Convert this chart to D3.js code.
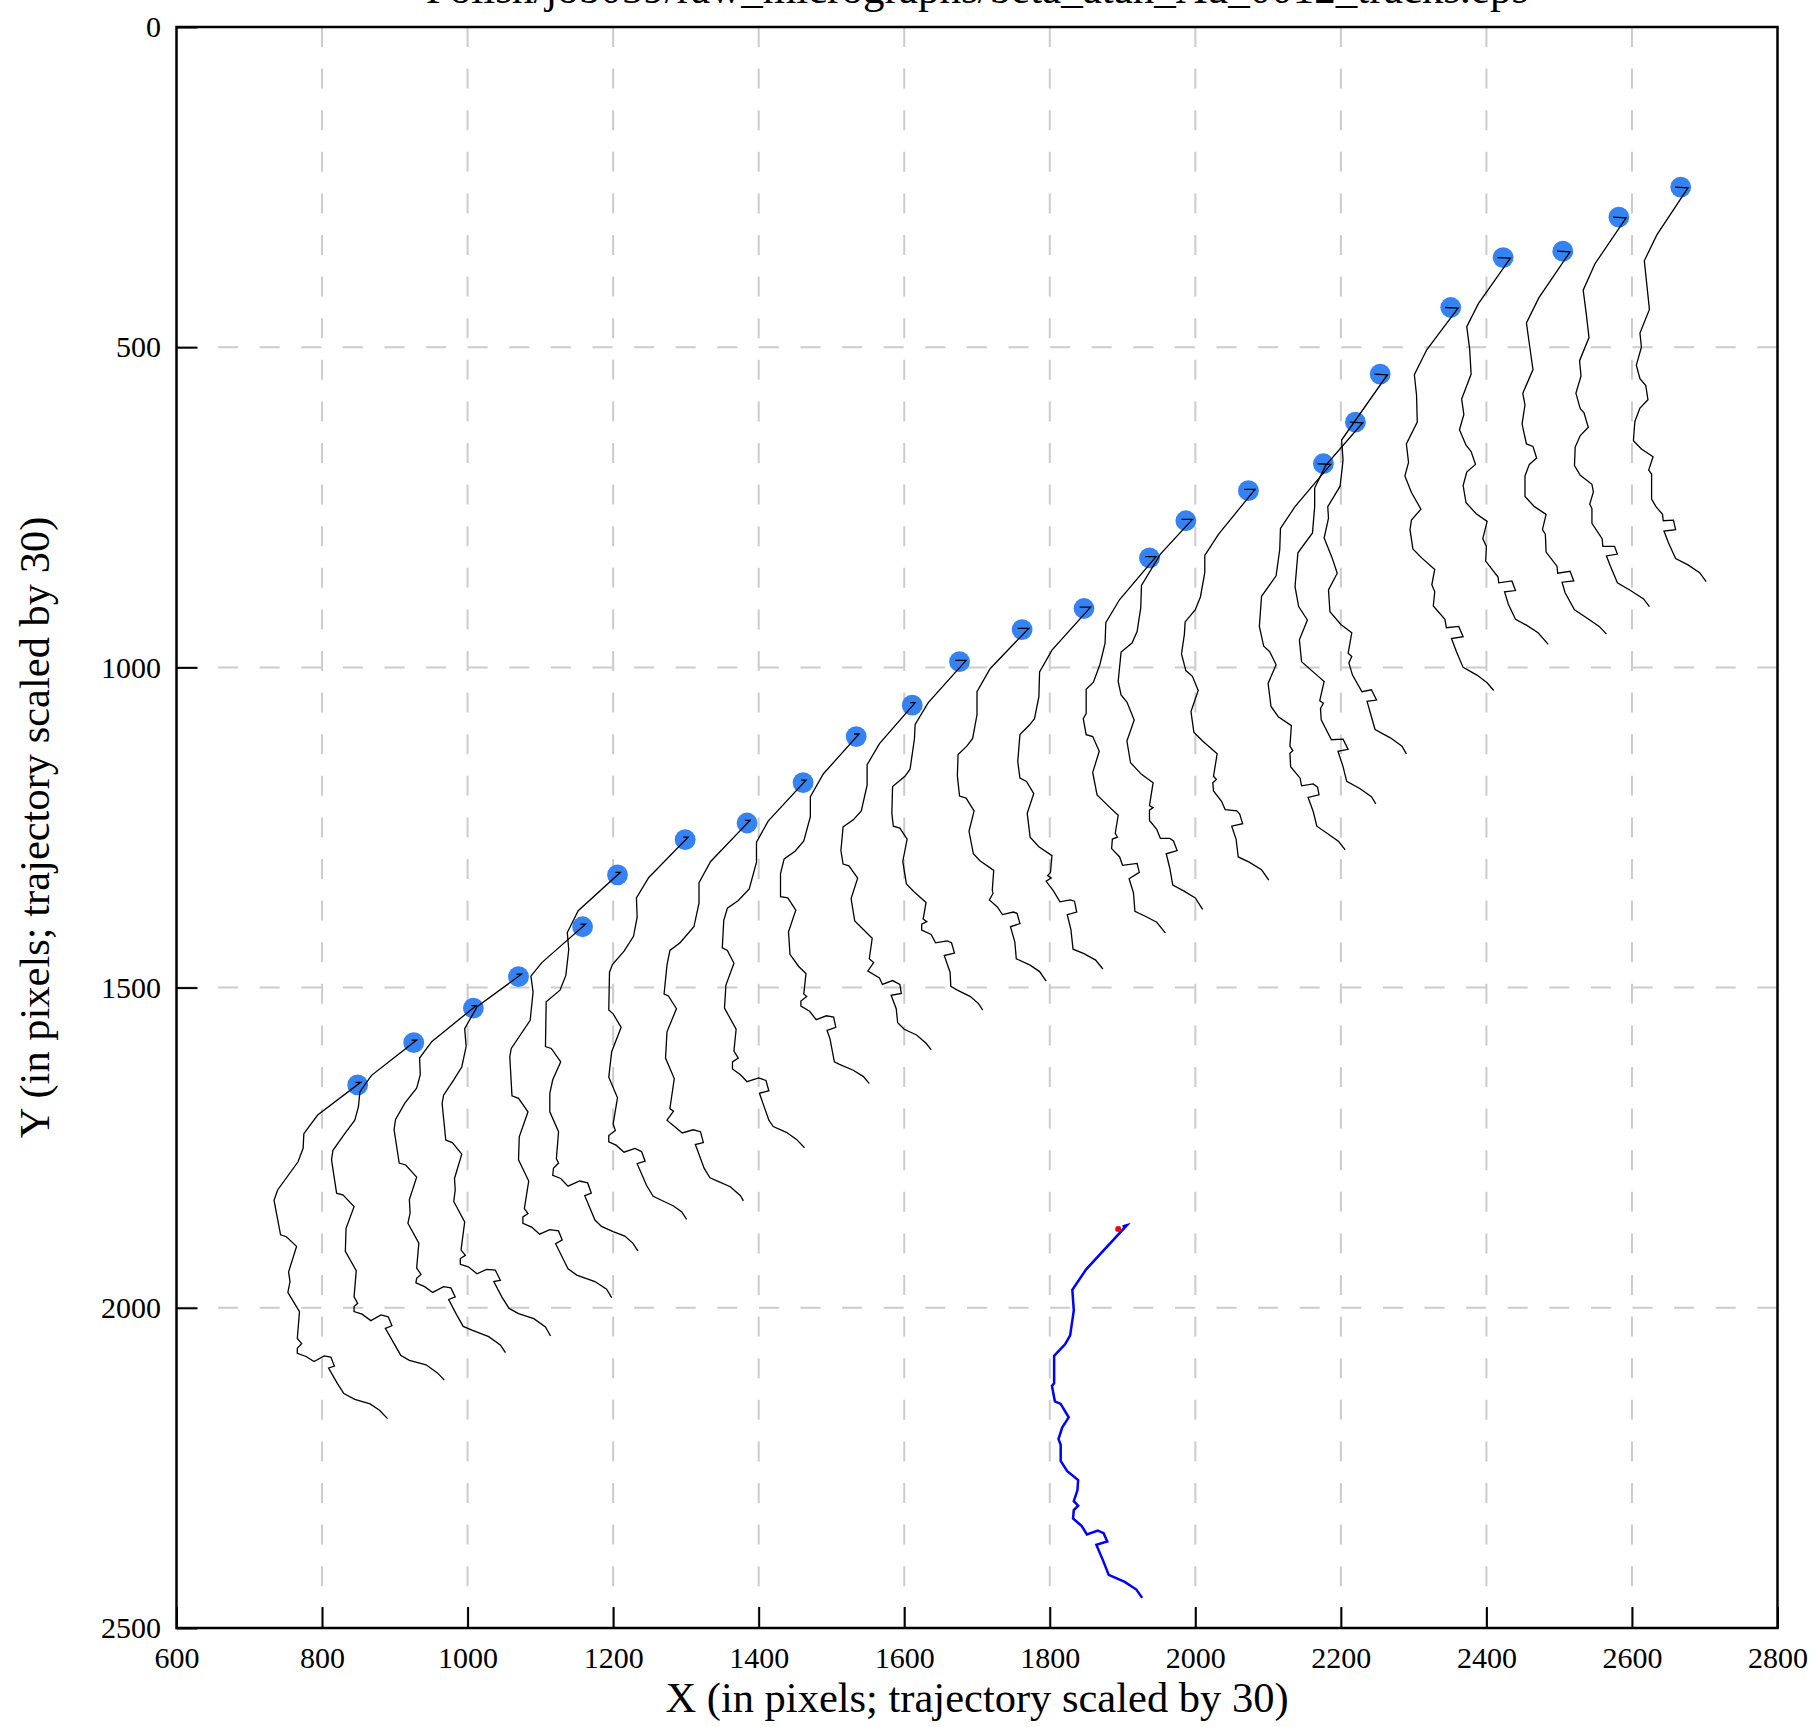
<!DOCTYPE html>
<html><head><meta charset="utf-8">
<script src="https://cdn.jsdelivr.net/npm/d3@7"></script>
<style>body{margin:0;background:#fff}</style>
</head><body>
<svg id="chart" width="1815" height="1727"></svg>
<script>
const titleText = "Polish/job059/raw_micrographs/beta_atan_Au_0012_tracks.eps";
const xLabel = "X (in pixels; trajectory scaled by 30)";
const yLabel = "Y (in pixels; trajectory scaled by 30)";
const xTicks = [600, 800, 1000, 1200, 1400, 1600, 1800, 2000, 2200, 2400, 2600, 2800];
const yTicks = [0, 500, 1000, 1500, 2000, 2500];

// particle positions (start of each track)
const particleX = [849, 926, 1008, 1070, 1158, 1206, 1299, 1384, 1461, 1534, 1611, 1676, 1762, 1847, 1937, 1987, 2073, 2176, 2220, 2254, 2351, 2423, 2505, 2582, 2667];
const particleY = [1652, 1586, 1532, 1483, 1405, 1324, 1269, 1243, 1180, 1108, 1059, 991, 941, 908, 829, 771, 724, 682, 617, 542, 438, 360, 350, 297, 250];

// per-particle tracks: displacement (x30) per frame, relative to particle position
const tracks = [
[[-3,-4],[4,-4],[-55,47],[-74,76],[-75,99],[-82,120],[-110,164],[-115,180],[-106,234],[-98,237],[-84,252],[-95,292],[-93,307],[-96,324],[-80,354],[-83,396],[-77,404],[-83,411],[-83,419],[-71,424],[-60,432],[-46,423],[-37,425],[-32,439],[-40,442],[-28,466],[-19,482],[-4,491],[17,498],[30,508],[41,521]],
[[-3,-4],[4,-4],[-58,51],[-74,77],[-76,100],[-81,121],[-96,144],[-111,168],[-113,183],[-106,235],[-97,238],[-82,256],[-93,290],[-94,326],[-79,356],[-82,397],[-77,407],[-82,412],[-82,420],[-71,424],[-59,434],[-45,425],[-35,428],[-30,442],[-39,446],[-27,470],[-18,488],[-6,496],[17,503],[33,516],[42,527]],
[[-3,-4],[4,-4],[-57,52],[-74,78],[-73,104],[-78,125],[-94,148],[-107,174],[-109,190],[-102,242],[-93,245],[-78,264],[-88,299],[-87,320],[-90,336],[-75,367],[-78,406],[-72,416],[-78,422],[-79,429],[-67,435],[-56,444],[-41,435],[-31,437],[-25,451],[-34,455],[-23,479],[-14,497],[-2,503],[21,513],[37,526],[44,538]],
[[-3,-4],[4,-4],[-57,47],[-74,81],[-72,109],[-78,141],[-89,161],[-103,185],[-105,198],[-100,255],[-91,259],[-78,277],[-88,315],[-87,333],[-89,351],[-74,383],[-79,427],[-73,435],[-80,440],[-80,449],[-69,453],[-57,464],[-44,457],[-32,458],[-25,474],[-34,476],[-23,500],[-13,518],[0,526],[21,534],[37,547],[44,561]],
[[-3,-4],[4,-4],[-56,56],[-71,77],[-68,102],[-72,146],[-98,190],[-100,203],[-97,264],[-88,268],[-75,289],[-87,328],[-88,364],[-74,397],[-80,440],[-75,448],[-82,453],[-82,463],[-70,469],[-59,480],[-45,473],[-33,475],[-28,489],[-37,495],[-27,518],[-20,534],[-8,544],[17,554],[33,566],[40,579]],
[[-3,-4],[4,-4],[-54,56],[-69,90],[-67,117],[-71,157],[-79,180],[-98,198],[-99,268],[-91,271],[-78,292],[-89,320],[-93,341],[-93,370],[-81,401],[-84,443],[-81,450],[-88,458],[-89,469],[-78,474],[-68,486],[-52,478],[-41,481],[-36,497],[-45,501],[-31,539],[-22,549],[-6,557],[10,564],[21,575],[28,587]],
[[-3,-4],[4,-4],[-50,59],[-67,91],[-66,121],[-71,151],[-84,174],[-100,195],[-104,207],[-105,266],[-99,272],[-88,293],[-101,331],[-105,371],[-93,403],[-99,444],[-96,454],[-105,462],[-105,472],[-95,477],[-84,488],[-69,482],[-60,487],[-55,502],[-66,506],[-53,540],[-44,557],[-29,565],[-16,572],[-5,581],[2,593]],
[[-3,-4],[4,-4],[-50,60],[-66,93],[-66,125],[-73,162],[-92,187],[-106,199],[-110,222],[-114,267],[-108,270],[-97,290],[-110,326],[-112,367],[-100,399],[-106,446],[-101,450],[-110,464],[-105,469],[-89,484],[-74,479],[-64,482],[-60,499],[-71,502],[-59,539],[-51,554],[-39,560],[-23,568],[-9,582],[-5,590]],
[[-3,-4],[4,-4],[-48,60],[-64,93],[-64,124],[-74,166],[-89,184],[-104,196],[-109,215],[-111,258],[-104,262],[-95,282],[-106,316],[-108,352],[-92,385],[-95,419],[-89,430],[-97,436],[-97,447],[-86,456],[-77,467],[-61,461],[-51,465],[-47,481],[-60,485],[-47,527],[-41,537],[-23,546],[-9,557],[2,570]],
[[-3,-4],[4,-4],[-45,58],[-63,94],[-63,125],[-72,163],[-84,179],[-99,191],[-104,214],[-104,250],[-94,252],[-83,271],[-93,305],[-91,340],[-79,359],[-69,370],[-72,402],[-68,406],[-76,413],[-76,421],[-64,429],[-55,442],[-41,436],[-31,438],[-28,454],[-40,459],[-36,472],[-30,508],[-23,512],[-4,521],[10,531],[18,542]],
[[-3,-4],[4,-4],[-45,60],[-62,93],[-62,125],[-70,165],[-81,179],[-95,190],[-98,227],[-95,248],[-87,251],[-75,270],[-84,302],[-79,337],[-55,364],[-59,396],[-53,402],[-61,415],[-45,426],[-41,436],[-27,430],[-17,436],[-15,450],[-29,453],[-22,474],[-20,496],[-11,506],[6,515],[19,528],[26,538]],
[[-6,-2],[9,-2],[-43,64],[-61,98],[-62,121],[-68,168],[-75,179],[-92,195],[-93,237],[-91,257],[-82,260],[-72,277],[-78,312],[-73,347],[-63,359],[-46,376],[-50,402],[-45,406],[-52,410],[-52,419],[-39,426],[-33,439],[-17,436],[-11,439],[-7,455],[-21,459],[-13,485],[-12,507],[-3,513],[15,523],[26,534],[32,544]],
[[-6,-2],[9,-2],[-44,61],[-62,97],[-62,133],[-68,170],[-76,182],[-88,195],[-89,228],[-86,260],[-77,263],[-66,283],[-73,315],[-67,350],[-58,361],[-39,376],[-41,407],[-40,412],[-45,422],[-34,433],[-27,445],[-12,441],[-7,443],[-3,459],[-16,464],[-10,488],[-8,514],[11,524],[24,534],[33,549]],
[[-6,-2],[9,-2],[-44,65],[-61,99],[-62,138],[-68,172],[-75,182],[-88,197],[-91,239],[-88,265],[-79,270],[-69,289],[-78,320],[-74,357],[-62,372],[-44,386],[-46,412],[-50,417],[-45,421],[-52,426],[-42,441],[-33,458],[-19,455],[-13,457],[-10,474],[-23,478],[-18,501],[-15,532],[0,539],[16,549],[26,563]],
[[-6,-2],[9,-2],[-41,65],[-60,101],[-61,133],[-68,166],[-77,194],[-87,205],[-87,243],[-91,251],[-87,276],[-78,279],[-69,302],[-78,335],[-72,370],[-56,388],[-43,402],[-47,430],[-44,436],[-51,439],[-52,454],[-41,467],[-37,480],[-17,477],[-14,491],[-28,501],[-22,523],[-20,552],[-5,560],[10,569],[22,586]],
[[-6,-2],[9,-2],[-35,52],[-61,101],[-62,136],[-67,173],[-74,191],[-89,205],[-93,251],[-89,272],[-81,283],[-71,311],[-81,344],[-76,378],[-61,396],[-45,409],[-50,445],[-45,448],[-50,452],[-50,468],[-40,482],[-35,496],[-22,496],[-17,500],[-12,515],[-27,520],[-22,543],[-18,569],[-3,578],[13,589],[23,607]],
[[-6,-2],[9,-2],[-41,68],[-60,101],[-60,128],[-66,166],[-73,186],[-87,205],[-88,224],[-92,255],[-86,281],[-77,290],[-69,312],[-79,345],[-75,377],[-63,391],[-43,411],[-48,446],[-44,451],[-49,456],[-48,469],[-37,485],[-32,498],[-16,500],[-12,505],[-8,520],[-23,524],[-17,544],[-14,572],[1,580],[18,592],[28,608]],
[[-8,0],[10,1],[-39,67],[-59,101],[-60,134],[-65,175],[-85,207],[-88,254],[-82,285],[-74,293],[-65,314],[-76,343],[-72,379],[-62,395],[-44,409],[-46,441],[-42,448],[-46,452],[-45,473],[-32,491],[-30,503],[-14,500],[-8,505],[-6,517],[-21,521],[-14,543],[-9,566],[5,577],[21,590],[30,603]],
[[-8,0],[10,1],[-41,68],[-56,103],[-56,132],[-59,173],[-79,204],[-83,257],[-78,288],[-66,309],[-77,340],[-74,374],[-51,397],[-43,405],[-49,435],[-44,439],[-48,447],[-47,465],[-33,496],[-17,495],[-10,511],[-24,514],[-17,538],[-12,561],[6,572],[22,585],[28,596]],
[[-8,0],[10,1],[-53,103],[-51,134],[-55,175],[-72,207],[-71,225],[-77,256],[-66,287],[-59,311],[-71,337],[-69,371],[-54,391],[-39,404],[-44,436],[-39,441],[-43,451],[-38,470],[-25,496],[-12,493],[-5,509],[-18,511],[-12,535],[-7,555],[14,568],[30,581],[36,593]],
[[-8,0],[10,1],[-33,66],[-50,105],[-47,137],[-46,179],[-61,213],[-58,242],[-63,263],[-54,289],[-41,315],[-54,332],[-56,347],[-52,377],[-40,391],[-22,409],[-26,433],[-22,444],[-24,466],[-8,487],[-6,500],[11,498],[17,514],[1,517],[8,538],[17,562],[36,574],[50,586],[59,598]],
[[-8,0],[10,1],[-34,72],[-50,108],[-46,143],[-44,182],[-57,221],[-54,245],[-60,269],[-51,293],[-44,303],[-38,323],[-50,335],[-55,356],[-51,383],[-37,400],[-22,412],[-28,439],[-23,451],[-24,474],[-7,499],[-6,508],[12,505],[17,520],[2,522],[7,541],[17,565],[32,574],[48,586],[62,604]],
[[-8,0],[10,1],[-33,73],[-50,112],[-46,145],[-41,185],[-55,222],[-52,240],[-56,270],[-50,301],[-41,305],[-36,323],[-46,333],[-52,351],[-52,383],[-39,399],[-23,411],[-28,435],[-24,442],[-23,470],[-8,492],[-7,503],[10,500],[15,515],[-1,517],[3,533],[16,560],[32,572],[50,586],[60,598]],
[[-8,0],[10,1],[-33,73],[-49,114],[-45,149],[-41,188],[-54,224],[-52,248],[-59,275],[-53,299],[-48,305],[-42,328],[-53,341],[-60,359],[-61,388],[-53,403],[-37,417],[-35,429],[-40,448],[-37,455],[-37,478],[-23,502],[-22,514],[-6,514],[-2,526],[-17,529],[-12,544],[-2,571],[16,583],[34,596],[42,608]],
[[-8,0],[10,1],[-33,75],[-50,115],[-43,191],[-56,228],[-54,250],[-61,278],[-56,299],[-48,310],[-45,332],[-56,345],[-63,366],[-65,396],[-54,409],[-38,421],[-44,442],[-40,448],[-40,487],[-34,499],[-25,511],[-24,521],[-10,520],[-7,535],[-23,537],[-17,555],[-7,580],[10,590],[26,602],[35,616]]
];

// global (blue) track and its origin (red point)
const globalOrigin = [1894, 1877];
const globalTrack = [[6,-4],[12,-6],[-44,63],[-63,95],[-61,127],[-66,166],[-73,180],[-88,198],[-88,241],[-91,245],[-87,269],[-79,273],[-68,294],[-77,310],[-82,328],[-79,337],[-79,362],[-70,378],[-55,392],[-56,408],[-61,425],[-55,432],[-61,439],[-62,452],[-50,464],[-43,477],[-28,471],[-20,475],[-15,488],[-30,493],[-21,517],[-13,540],[9,551],[25,563],[33,576]];

const W = 1815, H = 1727;
const L = 176.5, T = 27, PW = 1601, PH = 1601;
const svg = d3.select("#chart");
svg.append("rect").attr("width", W).attr("height", H).attr("fill", "#fff");

const x = d3.scaleLinear().domain([600, 2800]).range([L, L + PW]);
const y = d3.scaleLinear().domain([0, 2500]).range([T, T + PH]);

const font = "'Liberation Serif', 'Times New Roman', serif";

// grid
const grid = svg.append("g").attr("stroke", "#cccccc").attr("stroke-width", 2).attr("stroke-dasharray", "20,21.6");
grid.selectAll("line.v").data(xTicks.slice(1, -1)).join("line").attr("class", "v")
  .attr("x1", d => x(d)).attr("x2", d => x(d)).attr("y1", y(0)).attr("y2", y(2500));
grid.selectAll("line.h").data(yTicks.slice(1, -1)).join("line").attr("class", "h")
  .attr("y1", d => y(d)).attr("y2", d => y(d)).attr("x1", x(600)).attr("x2", x(2800));

// axes
const xAxis = svg.append("g").attr("transform", `translate(0,${y(2500)})`)
  .call(d3.axisBottom(x).tickValues(xTicks).tickFormat(d3.format("d")).tickSize(-21).tickSizeOuter(0).tickPadding(19));
const yAxis = svg.append("g").attr("transform", `translate(${x(600)},0)`)
  .call(d3.axisLeft(y).tickValues(yTicks).tickFormat(d3.format("d")).tickSize(-21).tickSizeOuter(0).tickPadding(15.5));
[xAxis, yAxis].forEach(a => {
  a.select(".domain").remove();
  a.selectAll(".tick line").attr("stroke", "#000").attr("stroke-width", 2);
  a.selectAll(".tick text").attr("font-family", font).attr("font-size", 30).attr("fill", "#000");
});

// frame
svg.append("rect").attr("x", x(600)).attr("y", y(0)).attr("width", PW).attr("height", PH)
  .attr("fill", "none").attr("stroke", "#000").attr("stroke-width", 2.5);

// particles
const particles = particleX.map((px, i) => ({x: px, y: particleY[i], track: tracks[i]}));
const dotR = 10.4;
svg.append("g").selectAll("circle").data(particles).join("circle")
  .attr("cx", d => x(d.x)).attr("cy", d => y(d.y)).attr("r", dotR).attr("fill", "#3582f2");

const line = d3.line().x(d => x(d[0])).y(d => y(d[1]));
svg.append("g").selectAll("path").data(particles).join("path")
  .attr("d", d => line(d.track.map(p => [d.x + p[0], d.y + p[1]])))
  .attr("fill", "none").attr("stroke", "#000").attr("stroke-width", 1.3).attr("stroke-linejoin", "miter");

// global track
svg.append("path")
  .attr("d", line(globalTrack.map(p => [globalOrigin[0] + p[0], globalOrigin[1] + p[1]])))
  .attr("fill", "none").attr("stroke", "#0000ff").attr("stroke-width", 2.5);
svg.append("circle").attr("cx", x(globalOrigin[0])).attr("cy", y(globalOrigin[1])).attr("r", 3).attr("fill", "#ff0000");

// labels
svg.append("text").attr("x", x(1700)).attr("y", 1712).attr("text-anchor", "middle")
  .attr("font-family", font).attr("font-size", 42.5).text(xLabel);
svg.append("text").attr("transform", `translate(49,${y(1250)}) rotate(-90)`).attr("text-anchor", "middle")
  .attr("font-family", font).attr("font-size", 42.5).text(yLabel);
svg.append("text").attr("x", x(1700)).attr("y", 3).attr("text-anchor", "middle")
  .attr("font-family", font).attr("font-size", 43).text(titleText);
</script>
</body></html>
